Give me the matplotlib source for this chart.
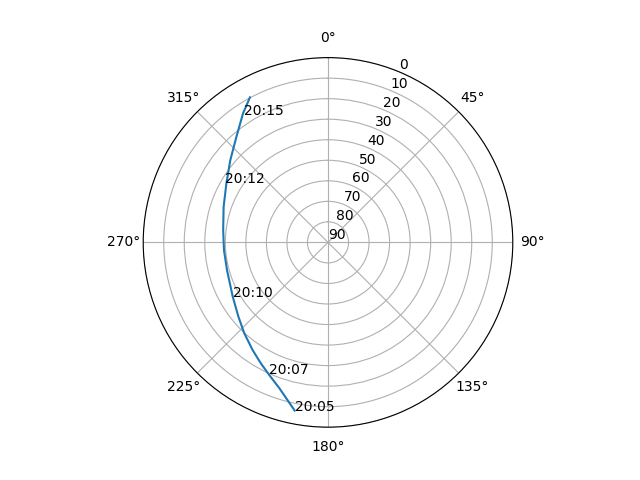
import numpy as np
import matplotlib
matplotlib.use("Agg")
import matplotlib.pyplot as plt

# Satellite pass track (azimuth in degrees, elevation in degrees)
track_az = [191.2, 198.4, 203.8, 209.0, 215.0, 222.6, 230.3, 240.3, 254.7,
            265.8, 276.7, 288.8, 300.1, 310.1, 319.1, 326.6, 331.7]
track_el = [6.5, 15.1, 19.3, 22.6, 26.0, 29.8, 33.3, 36.6, 39.0,
            39.2, 38.6, 36.3, 32.8, 27.8, 21.9, 14.8, 9.8]

# Time labels along the pass
label_times = ["20:05", "20:07", "20:10", "20:12", "20:15"]
label_az = [191.2, 204.2, 240.2, 300.0, 326.6]
label_el = [6.5, 19.7, 36.7, 31.9, 15.4]

r_ticks = list(range(0, 91, 10))

fig = plt.figure(figsize=(6.4, 4.8), dpi=100)
ax = fig.add_subplot(111, projection="polar")
ax.set_theta_zero_location("N")
ax.set_theta_direction(-1)
ax.plot(np.radians(track_az), track_el)
for t, a, e in zip(label_times, label_az, label_el):
    ax.text(np.radians(a), e, t)
ax.set_yticks(r_ticks)
ax.set_rlim(90, 0)
ax.grid(True)
fig.savefig("out.png", dpi=100)
